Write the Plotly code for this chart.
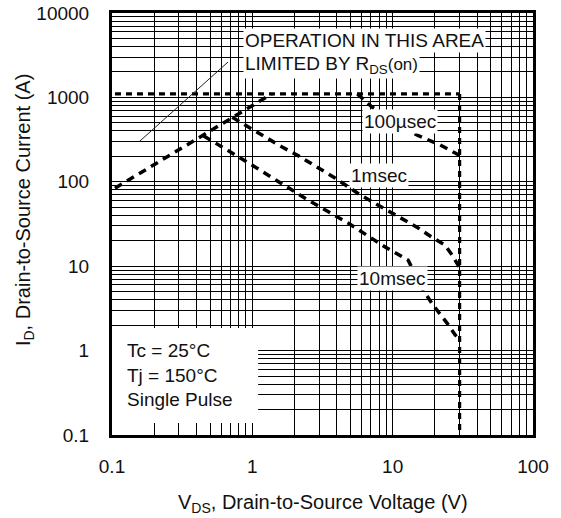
import plotly.graph_objects as go

# ---- data ----
rds_v = [0.105, 1.375]
rds_i = [84, 1100]

limit_top_v = [0.105, 30]
limit_top_i = [1100, 1100]

limit_vert_v = [30, 30]
limit_vert_i = [1100, 0.105]

us100_v = [5.6, 7.13, 14.9, 21.8, 27.9, 30]
us100_i = [1100, 770, 358, 273, 219, 205]

ms1_v = [0.72, 1.01, 1.63, 2.08, 3.88, 5.87, 8.55, 15.2, 19.4, 23.6, 26.5, 30]
ms1_i = [580, 411, 258, 208, 111, 70, 49, 28.4, 21.6, 17.8, 13.6, 9.6]

ms10_v = [0.45, 1.045, 2.49, 4.81, 8.83, 12.9, 16.0, 19.4, 24.4, 27.9, 30]
ms10_i = [350, 150, 60.8, 32.5, 16.9, 11.8, 5.6, 3.47, 2.12, 1.53, 1.35]

pointer_v = [0.158, 0.671]
pointer_i = [304, 2624]

# white panel behind the conditions text (data extent)
panel_v = [0.1, 1.1]
panel_i = [0.1, 1.85]

x_decades = [0.1, 1, 10]
x_tick_labels = ["0.1", "1", "10", "100"]
y_decades = [0.1, 1, 10, 100, 1000]
y_tick_labels = ["0.1", "1", "10", "100", "1000", "10000"]
digits = [1, 2, 3, 4, 5, 6, 7, 8, 9]

FONT = "Liberation Sans, Arial, Helvetica, sans-serif"
INK = "#111111"


def log_ticks(decades, labels):
    vals, texts = [], []
    for k, d in enumerate(decades):
        for m in digits:
            vals.append(round(d * m, 6))
            texts.append(labels[k] if m == 1 else "")
    vals.append(round(decades[-1] * 10, 6))
    texts.append(labels[-1])
    return vals, texts


xv, xt = log_ticks(x_decades, x_tick_labels)
yv, yt = log_ticks(y_decades, y_tick_labels)

fig = go.Figure()

curve_style = dict(color="black", width=3.5, dash="8px,6px")
limit_style = dict(color="black", width=3.2, dash="6px,5px")

fig.add_trace(go.Scatter(x=limit_top_v, y=limit_top_i, mode="lines", line=limit_style, hoverinfo="skip"))
fig.add_trace(go.Scatter(x=limit_vert_v, y=limit_vert_i, mode="lines", line=limit_style, hoverinfo="skip"))
fig.add_trace(go.Scatter(x=rds_v, y=rds_i, mode="lines", line=curve_style, hoverinfo="skip"))
fig.add_trace(go.Scatter(x=us100_v, y=us100_i, mode="lines", line=curve_style, hoverinfo="skip"))
fig.add_trace(go.Scatter(x=ms1_v, y=ms1_i, mode="lines", line=curve_style, hoverinfo="skip"))
fig.add_trace(go.Scatter(x=ms10_v, y=ms10_i, mode="lines", line=curve_style, hoverinfo="skip"))
fig.add_trace(go.Scatter(x=pointer_v, y=pointer_i, mode="lines", line=dict(color="#222", width=1), hoverinfo="skip"))

fig.add_shape(type="rect", xref="x", yref="y", x0=panel_v[0], x1=panel_v[1], y0=panel_i[0], y1=panel_i[1],
              fillcolor="white", line=dict(width=0), layer="between")

ann_font = dict(family=FONT, size=19, color=INK)


def label(text, x, y, xanchor="center", align="center"):
    fig.add_annotation(text=text, xref="paper", yref="paper", x=x, y=y, xanchor=xanchor,
                       yanchor="middle", showarrow=False, bgcolor="white", borderpad=1,
                       font=ann_font, align=align)


label("OPERATION IN THIS AREA", 0.311, 0.934, xanchor="left")
label('LIMITED BY R<sub>DS</sub><span style="font-size:17px">(on)</span>', 0.311, 0.876, xanchor="left")
label("100µsec", 0.684, 0.742)
label("1msec", 0.634, 0.616)
label("10msec", 0.667, 0.372)

fig.add_annotation(text="Tc = 25°C<br>Tj = 150°C<br>Single Pulse", xref="paper", yref="paper",
                   x=0.031, y=0.142, xanchor="left", yanchor="middle", showarrow=False,
                   align="left", font=ann_font)

# axis titles
fig.add_annotation(text="V<sub>DS</sub>, Drain-to-Source Voltage (V)", xref="paper", yref="paper",
                   x=0.5, y=-0.163, xanchor="center", yanchor="middle", showarrow=False,
                   font=dict(family=FONT, size=20, color=INK))
fig.add_annotation(text="I<sub>D</sub>, Drain-to-Source Current (A)", xref="paper", yref="paper",
                   x=-0.209, y=0.533, xanchor="center", yanchor="middle", showarrow=False,
                   textangle=-90, font=dict(family=FONT, size=20, color=INK))

fig.update_xaxes(type="log", range=[-1, 2], tickvals=xv, ticktext=xt,
                 showgrid=True, gridcolor="black", gridwidth=1,
                 showline=True, linecolor="black", linewidth=3, mirror=True,
                 ticks="inside", ticklen=12, tickwidth=1, tickcolor="black",
                 ticklabelstandoff=12, zeroline=False, automargin=False,
                 tickfont=dict(family=FONT, size=19, color=INK))
fig.update_yaxes(type="log", range=[-1, 4], tickvals=yv, ticktext=yt,
                 showgrid=True, gridcolor="black", gridwidth=1,
                 showline=True, linecolor="black", linewidth=3, mirror=True,
                 ticks="", ticklabelstandoff=16, zeroline=False, automargin=False,
                 tickfont=dict(family=FONT, size=19, color=INK))

fig.update_layout(width=561, height=518, margin=dict(l=112, r=28, t=13, b=83),
                  plot_bgcolor="white", paper_bgcolor="white", showlegend=False)

fig.write_html("out.html", config={"displayModeBar": False},
               post_script="document.body.style.margin='0px';")
